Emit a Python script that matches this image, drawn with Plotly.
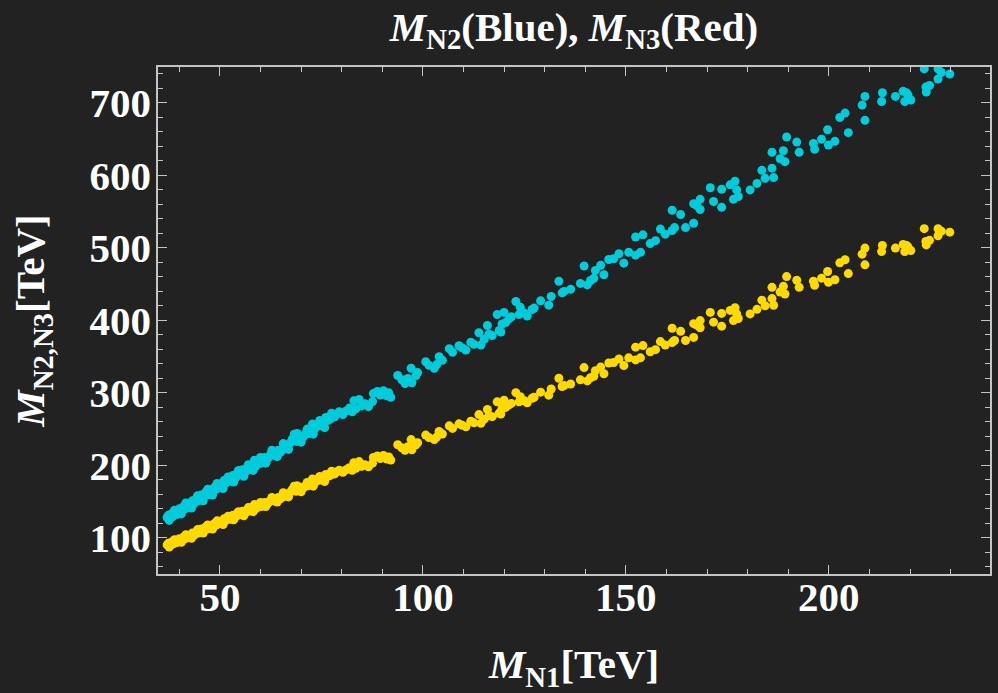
import plotly.graph_objects as go

# ---- data: M_N1 (x), M_N2 (blue), M_N3 (red, drawn gold) ----
n1_a = [37.0, 37.3, 37.6, 38.0, 38.3, 38.6, 39.0, 39.3, 39.7, 40.0, 40.3, 40.7, 41.0, 41.4, 41.8, 42.1, 42.5, 42.9,
        43.2, 43.6, 44.0, 44.3, 44.7, 45.1, 45.4, 45.8, 46.2, 46.5, 46.9, 47.3, 47.6, 48.0, 48.4, 48.7, 49.1, 49.5,
        49.8, 50.2, 50.6, 51.0, 51.3, 51.7, 52.1, 52.5, 52.8, 53.2, 53.6, 54.0, 54.4, 54.8, 55.2, 55.6, 56.0, 56.4,
        56.8, 57.2, 57.6, 58.0, 58.5, 58.9, 59.3, 59.8, 60.2, 60.7, 61.1, 61.6, 62.0, 62.5, 63.0, 63.4, 63.9, 64.4,
        64.9, 65.3, 65.8, 66.3, 66.8, 67.3, 67.8, 68.3, 68.8, 69.3, 69.8, 70.3, 70.8, 71.3, 71.8, 72.4, 72.8, 73.3,
        73.8, 74.3, 74.9, 75.4, 76.1, 76.6, 77.2, 77.7, 78.3, 78.8]
n2_a = [128, 131, 127, 133, 129, 131, 136, 132, 135, 140, 136, 138, 143, 140, 142, 147, 143, 146,
        151, 147, 150, 155, 151, 154, 159, 155, 158, 163, 159, 162, 166, 163, 166, 170, 167, 170,
        174, 171, 174, 179, 175, 178, 183, 178, 181, 186, 181, 184, 191, 187, 189, 194, 190, 192,
        197, 194, 196, 201, 207, 199, 202, 206, 203, 207, 211, 208, 211, 215, 219, 214, 217, 221,
        218, 221, 226, 223, 226, 231, 236, 243, 233, 236, 241, 238, 241, 246, 244, 248, 257, 250,
        253, 258, 255, 259, 266, 262, 264, 270, 267, 271]
n3_a = [90.2, 92.4, 89.5, 93.8, 90.9, 92.4, 95.9, 93.1, 95.2, 98.7, 95.9, 97.3, 100.8, 98.7, 100.1, 103.6, 100.8, 102.9,
        106.5, 103.6, 105.8, 109.3, 106.5, 108.6, 112.1, 109.3, 111.4, 114.9, 112.1, 114.2, 117.0, 114.9, 117.0, 119.9, 117.7, 119.9,
        122.7, 120.6, 122.7, 126.2, 123.4, 125.5, 129.0, 125.5, 127.6, 131.1, 127.6, 129.7, 134.7, 131.8, 133.2, 136.8, 134.0, 135.4,
        138.9, 136.8, 138.2, 141.7, 145.9, 140.3, 142.4, 145.2, 143.1, 145.9, 148.8, 146.6, 148.8, 151.6, 154.4, 150.9, 153.0, 155.8,
        153.7, 155.8, 159.3, 157.2, 159.3, 162.9, 166.4, 171.3, 164.3, 166.4, 169.9, 167.8, 169.9, 173.4, 172.0, 174.8, 181.2, 176.3,
        178.4, 181.9, 179.8, 182.6, 187.5, 184.7, 186.1, 190.4, 188.2, 191.1]

# extra points on the edges of the dense band
n1_g = [37.5, 38.8, 40.5, 41.6, 43.0, 44.5, 45.9, 47.0, 48.2, 49.3, 50.8, 52.0, 53.4, 54.6, 55.9,
        57.0, 58.2, 60.0, 61.3, 62.8, 64.1, 65.6, 66.9, 69.0, 70.0, 71.5, 73.0, 74.6, 75.8, 77.5]
n2_g = [124, 138, 133, 148, 141, 158, 151, 167, 159, 175, 168, 184, 177, 193, 185,
        201, 193, 211, 203, 221, 212, 230, 222, 244, 232, 250, 243, 262, 252, 272]
n3_g = [87.4, 97.3, 93.8, 104.3, 99.4, 111.4, 106.5, 117.7, 112.1, 123.4, 118.4, 129.7, 124.8, 136.1, 130.4,
        141.7, 136.1, 148.8, 143.1, 155.8, 149.5, 162.2, 156.5, 172.0, 163.6, 176.3, 171.3, 184.7, 177.7, 191.8]

n1_b = [79.4, 80.3, 81.1, 81.9, 82.6, 83.0, 83.5, 84.3, 84.9, 85.7, 86.6, 87.6, 87.8, 88.8, 89.5, 90.3, 91.1, 91.6,
        92.1, 93.8, 94.8, 95.6, 96.3, 97.1, 97.3, 98.3, 98.7, 100.7, 101.5, 102.8, 103.4, 104.0, 104.8]
n2_b = [274, 270, 275, 279, 274, 289, 278, 291, 282, 285, 281, 288, 299, 302, 297, 303, 296, 300,
        294, 324, 318, 313, 320, 334, 314, 324, 328, 343, 338, 334, 339, 350, 345]
n3_b = [193.2, 190.4, 193.9, 196.7, 193.2, 203.7, 196.0, 205.2, 198.8, 200.9, 198.1, 203.0, 210.8, 212.9, 209.4, 213.6, 208.7, 211.5,
        207.3, 228.4, 224.2, 220.7, 225.6, 235.5, 221.4, 228.4, 231.2, 241.8, 238.3, 235.5, 239.0, 246.8, 243.2]

n1_c = [106.5, 107.3, 108.9, 109.7, 110.6, 111.8, 112.6, 113.8, 114.3, 115.1, 115.9, 116.3, 117.1, 118.3,
        118.8, 119.2, 119.5, 120.0, 120.4, 121.2, 121.8, 122.9, 123.7, 124.0, 125.0, 125.7, 126.9, 127.4]
n2_c = [361, 356, 365, 362, 359, 370, 367, 383, 366, 374, 393, 381, 379, 408,
        386, 384, 395, 411, 397, 402, 405, 426, 408, 418, 410, 406, 415, 417]
n3_c = [254.5, 251.0, 257.3, 255.2, 253.1, 260.9, 258.7, 270.0, 258.0, 263.7, 277.1, 268.6, 267.2, 287.6,
        272.1, 270.7, 278.5, 289.8, 279.9, 283.4, 285.5, 300.3, 287.6, 294.7, 289.1, 286.2, 292.6, 294.0]

n1_d = [129.0, 131.0, 131.6, 133.5, 134.3, 134.8, 136.4, 138.8, 139.7, 140.5, 141.3, 142.1, 142.5, 143.8, 144.6, 145.8,
        147.0, 148.3, 149.5, 150.7, 152.4, 152.4, 153.6, 154.2, 156.0, 157.3, 158.5, 159.7, 161.4, 161.4, 163.5]
n2_d = [427, 421, 433, 454, 438, 440, 443, 451, 475, 449, 455, 458, 469, 476, 463, 484,
        485, 492, 479, 494, 490, 515, 494, 518, 506, 510, 526, 519, 524, 552, 546]
n3_d = [301.0, 296.8, 305.3, 320.1, 308.8, 310.2, 312.3, 318.0, 334.9, 316.5, 320.8, 322.9, 330.6, 335.6, 326.4, 341.2,
        341.9, 346.9, 337.7, 348.3, 345.5, 363.1, 348.3, 365.2, 356.7, 359.6, 370.8, 365.9, 369.4, 389.2, 384.9]

n1_e = [162.0, 164.7, 166.7, 166.7, 167.5, 168.3, 168.3, 170.8, 171.6, 173.6, 173.6, 175.7, 176.5, 176.9, 177.3, 177.7,
        180.6, 182.3, 183.5, 184.3, 186.0, 186.4, 186.0, 188.0, 188.8, 189.2, 189.6, 192.1, 192.7, 196.2, 196.5, 198.2,
        199.7, 199.9, 201.5, 202.7, 204.0, 204.8]
n2_e = [528, 528, 534, 561, 558, 567, 553, 583, 564, 556, 581, 587, 567, 592, 580, 571,
        580, 589, 607, 596, 610, 597, 632, 623, 634, 619, 653, 646, 632, 644, 636, 650,
        663, 642, 647, 680, 686, 659]
n3_e = [372.2, 372.2, 376.5, 395.5, 393.4, 399.7, 389.9, 411.0, 397.6, 392.0, 409.6, 413.8, 399.7, 417.4, 408.9, 402.6,
        408.9, 415.2, 427.9, 420.2, 430.1, 420.9, 445.6, 439.2, 447.0, 436.4, 460.4, 455.4, 445.6, 454.0, 448.4, 458.3,
        467.4, 452.6, 456.1, 479.4, 483.6, 464.6]

n1_f = [208.2, 208.9, 208.9, 213.0, 213.2, 216.4, 218.3, 219.1, 219.5, 218.7, 220.2, 223.5, 223.9, 224.0, 224.8,
        226.9, 226.9, 227.7, 229.8]
n2_f = [697, 709, 676, 702, 714, 709, 716, 714, 711, 702, 704, 747, 722, 715, 724, 733, 747, 742, 740]
n3_f = [491.4, 499.8, 476.6, 494.9, 503.4, 499.8, 504.8, 503.4, 501.3, 494.9, 496.3, 526.6, 509.0, 504.1, 510.4,
        516.8, 526.6, 523.1, 521.7]

x_ticks = [50, 100, 150, 200]
y_ticks = [100, 200, 300, 400, 500, 600, 700]

m_n1 = n1_a + n1_g + n1_b + n1_c + n1_d + n1_e + n1_f
m_n2 = n2_a + n2_g + n2_b + n2_c + n2_d + n2_e + n2_f
m_n3 = n3_a + n3_g + n3_b + n3_c + n3_d + n3_e + n3_f

BG = "#222222"
FRAME = "#c4c4c4"
BLUE = "rgb(0,204,220)"
GOLD = "rgb(255,218,0)"
FONT = "Liberation Serif"

fig = go.Figure()
fig.add_trace(go.Scatter(x=m_n1, y=m_n2, mode="markers", name="M_N2",
                         marker=dict(size=9, color=BLUE, line=dict(width=0))))
fig.add_trace(go.Scatter(x=m_n1, y=m_n3, mode="markers", name="M_N3",
                         marker=dict(size=9, color=GOLD, line=dict(width=0))))

axis_common = dict(
    showgrid=False, zeroline=False, showline=True, linecolor=FRAME, linewidth=1.5,
    mirror="allticks", ticks="inside", tickcolor=FRAME, tickwidth=1.2, ticklen=9,
    tickfont=dict(family=FONT, size=41, color="white", weight="bold"),
    minor=dict(ticks="inside", ticklen=5, tickcolor=FRAME, tickwidth=1.2, showgrid=False),
)

fig.update_layout(
    width=998, height=693,
    paper_bgcolor=BG, plot_bgcolor=BG,
    margin=dict(l=158, r=6, t=67, b=110),
    showlegend=False,
    title=dict(text="<i>M</i><sub>N2</sub>(Blue), <i>M</i><sub>N3</sub>(Red)",
               font=dict(family=FONT, size=41, color="white", weight="bold"),
               x=0.5, xref="paper", xanchor="center", y=0.962, yref="container", yanchor="middle"),
    xaxis=dict(range=[34.75, 239.7], tickvals=x_ticks, ticktext=[str(v) for v in x_ticks],
               minor_dtick=10, minor_tick0=0, ticklabelstandoff=-14,
               title=dict(text="<i>M</i><sub>N1</sub>[TeV]", standoff=38,
                          font=dict(family=FONT, size=41, color="white", weight="bold")),
               **axis_common),
    yaxis=dict(range=[50.1, 749.6], tickvals=y_ticks, ticktext=[str(v) for v in y_ticks],
               minor_dtick=20, minor_tick0=0, ticklabelstandoff=-3,
               title=dict(text="<i>M</i><sub>N2,N3</sub>[TeV]", standoff=32,
                          font=dict(family=FONT, size=41, color="white", weight="bold")),
               **axis_common),
)

fig.write_html("out.html", config={"displayModeBar": False},
               post_script="document.body.style.margin='0';document.body.style.background='#222222';")
